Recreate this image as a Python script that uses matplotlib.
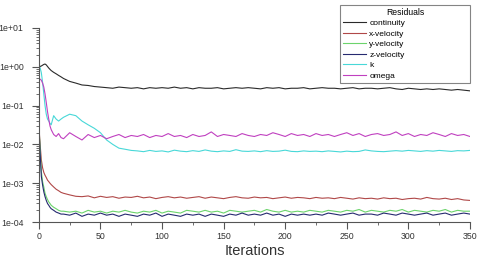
import matplotlib
matplotlib.use("Agg")
import matplotlib.pyplot as plt
from matplotlib.ticker import MultipleLocator, LogLocator, FuncFormatter

plt.rcParams["font.family"] = ["Liberation Sans", "DejaVu Sans"]

iters = [0, 1, 2, 3, 4, 5, 6, 7, 8, 9, 10, 12, 14, 16, 18, 20] + list(range(25, 351, 5))

continuity = [1.0, 1.02, 1.05, 1.1, 1.15, 1.18, 1.12, 1.02, 0.93, 0.86, 0.8, 0.72, 0.66, 0.6, 0.55, 0.5,
              0.42, 0.38, 0.34, 0.33, 0.31, 0.30, 0.29, 0.28, 0.30, 0.29,
              0.28, 0.29, 0.27, 0.29, 0.28, 0.29, 0.28, 0.30, 0.28, 0.29,
              0.27, 0.29, 0.28, 0.28, 0.29, 0.27, 0.28, 0.29, 0.28, 0.29,
              0.28, 0.27, 0.29, 0.28, 0.29, 0.27, 0.28, 0.28, 0.29, 0.27,
              0.28, 0.29, 0.28, 0.28, 0.27, 0.28, 0.29, 0.27, 0.28, 0.28,
              0.27, 0.28, 0.29, 0.27, 0.26, 0.28, 0.27, 0.26, 0.27, 0.26,
              0.27, 0.26, 0.25, 0.26, 0.25, 0.24]

x_vel = [0.03, 0.01, 0.004, 0.0025, 0.0019, 0.0016, 0.0014, 0.0012, 0.0011, 0.001, 0.00092, 0.0008, 0.0007, 0.00064, 0.00058, 0.00055,
         0.0005, 0.00046, 0.00045, 0.00047, 0.00042, 0.00046, 0.00043, 0.00045, 0.00041, 0.00044,
         0.00043, 0.00046, 0.00042, 0.00044, 0.0004, 0.00043, 0.00045, 0.00042, 0.00044, 0.00041,
         0.00043, 0.00045, 0.00041, 0.00044, 0.00042, 0.0004, 0.00043, 0.00045, 0.00042, 0.00041,
         0.00044, 0.00042, 0.00043, 0.0004, 0.00042, 0.00044, 0.00041, 0.00043, 0.00042, 0.0004,
         0.00043, 0.00041, 0.00042, 0.0004, 0.00043, 0.00041, 0.00039, 0.00042, 0.0004, 0.00041,
         0.00039, 0.00042, 0.0004, 0.00041, 0.00038, 0.0004, 0.00041, 0.00039, 0.00043, 0.0004,
         0.00039, 0.00041, 0.00038, 0.0004, 0.00037, 0.00036]

y_vel = [0.03, 0.008, 0.002, 0.0011, 0.0008, 0.00055, 0.00045, 0.00038, 0.00033, 0.0003, 0.00027, 0.00024, 0.00022, 0.0002, 0.00019, 0.00019,
         0.00018, 0.00019, 0.00017, 0.0002, 0.00018, 0.00019, 0.00017, 0.00019, 0.00018, 0.0002,
         0.00018, 0.00017, 0.00019, 0.00018, 0.0002, 0.00017, 0.00019, 0.00018, 0.00017, 0.0002,
         0.00019, 0.00018, 0.0002, 0.00018, 0.00019, 0.00017, 0.0002, 0.00019, 0.00018, 0.00019,
         0.0002, 0.00018, 0.00021, 0.00019, 0.00018, 0.0002, 0.00018, 0.00019, 0.00018, 0.0002,
         0.00019, 0.00018, 0.0002, 0.00019, 0.00018, 0.0002, 0.00019, 0.00021, 0.00018, 0.0002,
         0.00019, 0.00018, 0.0002, 0.00019, 0.00021, 0.00018, 0.0002, 0.00019, 0.00018, 0.0002,
         0.00019, 0.00021, 0.00018, 0.0002, 0.00019, 0.00019]

z_vel = [0.03, 0.006, 0.0015, 0.0009, 0.0006, 0.00045, 0.00036, 0.0003, 0.00027, 0.00024, 0.00022, 0.0002, 0.00018, 0.00017, 0.00016, 0.00016,
         0.00015, 0.00017, 0.00014, 0.00016, 0.00015, 0.00017, 0.00015, 0.00016, 0.00014, 0.00016,
         0.00015, 0.00014, 0.00016, 0.00015, 0.00017, 0.00014, 0.00016, 0.00015, 0.00014, 0.00016,
         0.00015, 0.00016, 0.00014, 0.00016, 0.00015, 0.00014, 0.00016, 0.00015, 0.00017, 0.00015,
         0.00016, 0.00015, 0.00017, 0.00015, 0.00016, 0.00014, 0.00016, 0.00015, 0.00016, 0.00015,
         0.00016, 0.00015, 0.00017, 0.00016, 0.00015, 0.00016, 0.00017, 0.00015, 0.00016, 0.00016,
         0.00015, 0.00017, 0.00016, 0.00015, 0.00017, 0.00016, 0.00015, 0.00016, 0.00017, 0.00015,
         0.00016, 0.00017, 0.00015, 0.00016, 0.00017, 0.00016]

k = [1.0, 0.95, 0.7, 0.4, 0.2, 0.1, 0.06, 0.045, 0.04, 0.035, 0.032, 0.055, 0.045, 0.04, 0.045, 0.05,
     0.06, 0.055, 0.04, 0.032, 0.026, 0.02, 0.013, 0.01, 0.008, 0.0075,
     0.007, 0.0068, 0.0065, 0.007, 0.0066, 0.0068, 0.0064, 0.0071, 0.0067, 0.0065,
     0.0069, 0.0066, 0.0072, 0.0067, 0.0065, 0.0068, 0.0066, 0.0073, 0.0067, 0.0066,
     0.0068, 0.0065, 0.0069, 0.0066, 0.0067, 0.0071, 0.0066, 0.0065, 0.0068, 0.0066,
     0.0067, 0.0065, 0.0068, 0.0066, 0.0064, 0.0067, 0.0065, 0.0066, 0.0072, 0.0068,
     0.0066, 0.0065, 0.0067, 0.0069, 0.0067, 0.0070, 0.0068, 0.0066, 0.0069, 0.0067,
     0.0070, 0.0068, 0.0066, 0.0069, 0.0068, 0.0070]

omega = [0.5, 0.48, 0.45, 0.38, 0.3, 0.2, 0.12, 0.07, 0.045, 0.03, 0.024, 0.018, 0.016, 0.019, 0.015, 0.014,
         0.02, 0.016, 0.013, 0.018, 0.015, 0.017, 0.014, 0.016, 0.018, 0.015,
         0.017, 0.016, 0.018, 0.015, 0.017, 0.016, 0.019, 0.016, 0.017, 0.015,
         0.018, 0.016, 0.017, 0.021, 0.016, 0.018, 0.017, 0.016, 0.019, 0.017,
         0.016, 0.018, 0.017, 0.020, 0.018, 0.016, 0.019, 0.017, 0.018, 0.016,
         0.019, 0.017, 0.018, 0.016, 0.018, 0.020, 0.017, 0.019, 0.016, 0.018,
         0.019, 0.017, 0.018, 0.021, 0.017, 0.019, 0.016, 0.018, 0.017, 0.020,
         0.018, 0.016, 0.019, 0.017, 0.018, 0.016]

series = [("continuity", continuity, "#2a2a2a"),
          ("x-velocity", x_vel, "#b04848"),
          ("y-velocity", y_vel, "#6cd46c"),
          ("z-velocity", z_vel, "#262a70"),
          ("k", k, "#48d8d8"),
          ("omega", omega, "#c040c0")]

fig = plt.figure(figsize=(4.8, 2.58), dpi=100)
ax = fig.add_axes([0.081, 0.1395, 0.898, 0.752])

for name, vals, col in series:
    ax.plot(iters, vals, color=col, lw=0.8, label=name)

ax.set_yscale("log")
ax.set_ylim(1e-4, 1e1)
ax.set_xlim(0, 350)
ax.xaxis.set_major_locator(MultipleLocator(50))
ax.xaxis.set_minor_locator(MultipleLocator(25))
ax.yaxis.set_major_locator(LogLocator(base=10, numticks=10))
ax.yaxis.set_minor_locator(LogLocator(base=10, subs=range(2, 10), numticks=20))
ax.yaxis.set_major_formatter(FuncFormatter(lambda v, p: "%.0e" % v))

for s in ["top", "right"]:
    ax.spines[s].set_visible(False)
for s in ["left", "bottom"]:
    ax.spines[s].set_color("#555555")
    ax.spines[s].set_linewidth(0.8)

ax.tick_params(which="both", direction="out", colors="#555555", labelcolor="#333333", labelsize=6.3)
ax.tick_params(which="major", length=5)
ax.tick_params(which="minor", length=2.5)
ax.tick_params(axis="x", pad=2.5)
ax.tick_params(axis="y", pad=6)

ax.set_xlabel("Iterations", fontsize=10.5, color="#333333", labelpad=2)

leg = fig.legend(loc="upper left", bbox_to_anchor=(340 / 480, 1 - 83 / 258, 130 / 480, 78 / 258),
                 mode="expand", title="Residuals",
                 fontsize=6, title_fontsize=6.2, frameon=True, fancybox=False, borderaxespad=0,
                 handlelength=2.8, labelspacing=0.32, borderpad=0.35, handletextpad=0.35)
leg.get_frame().set_edgecolor("#666666")
leg.get_frame().set_linewidth(0.8)

fig.savefig("out.png", dpi=100)
